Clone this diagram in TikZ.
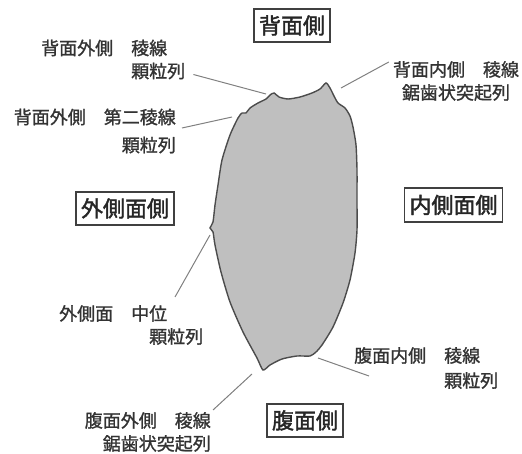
\documentclass[tikz,border=0pt]{standalone}
\usepackage{fontspec}
\newfontfamily\jpfont[FakeBold=1.2]{Noto Sans CJK JP}
\newfontfamily\jpboxfont[FakeBold=1.8]{Noto Sans CJK JP}
\usetikzlibrary{positioning}

\begin{document}
\begin{tikzpicture}[x=1pt, y=-1pt,
		side/.style={draw=black!75, line width=1.6pt, inner xsep=5pt, inner ysep=6pt,
			text height=19pt, text depth=2.5pt, text=black!85,
			font=\jpboxfont\fontsize{22}{26}\selectfont},
		note/.style={inner sep=0pt, text=black!80, font=\jpfont\fontsize{18}{23}\selectfont},
		leader/.style={draw=black!50, line width=1pt}]
	\useasboundingbox (0,0) rectangle (522,454);
	% Cross-section outline
	\filldraw[fill=black!25, draw=black!70, line width=1.4pt] plot[smooth cycle, tension=0.4] coordinates {
		(274,93) (279,97) (288,99) (300,97) (312,93) (320,89) (326,83)
		(330,88) (334,96) (338,103) (345,108) (350,116) (353,127) (356,145)
		(357,170) (357,200) (357,230) (355,253) (350,280) (343,303) (333,327)
		(322,345) (316,352) (310,356) (297,356) (282,359) (270,365) (263,370)
		(257,358) (243,332) (230,302) (221,272) (215,245) (213,232) (210,228)
		(213,222) (215,205) (218,185) (222,160) (230,135) (238,118) (242,113)
		(246,113) (250,108) (258,103) (266,99) (270,95)};
	% Points on the outline
	\coordinate (r1) at (266,94);
	\coordinate (r2) at (232,117);
	\coordinate (r3) at (341,88);
	\coordinate (r4) at (210,235);
	\coordinate (r5) at (252,374);
	\coordinate (r6) at (318,358);
	% Sides
	\node[side] (dorsal) at (292,25.5) {背面側};
	\node[side] (outer) at (125,208.5) {外側面側};
	\node[side] (inner) at (453.5,205) {内側面側};
	\node[side] (ventral) at (305,420.5) {腹面側};
	% Rows
	\node[note, align=left, anchor=west] (lab1) at (41,59.5) {背面外側　稜線\\\hspace{5em}顆粒列};
	\node[note, align=right, anchor=east] (lab2) at (176,131) {背面外側　第二稜線\\[5pt]顆粒列};
	\node[note, align=center] (lab3) at (456,81) {背面内側　稜線\\鋸歯状突起列};
	\node[note, align=left, anchor=west] (lab4) at (59,325) {外側面　中位\\\hspace{5em}顆粒列};
	\node[note, align=right, anchor=east] (lab5) at (211,432) {腹面外側　稜線\\鋸歯状突起列};
	\node[note, align=left, anchor=west] (lab6) at (354,368) {腹面内側　稜線\\[2pt]\hspace{5em}顆粒列};
	\draw[leader] ([shift={(8,15)}]lab1.east) -- (r1);
	\draw[leader] ([shift={(6,-3)}]lab2.east) -- (r2);
	\draw[leader] ([shift={(-4,-19)}]lab3.west) -- (r3);
	\draw[leader] ([shift={(116,-28)}]lab4.west) -- (r4);
	\draw[leader] ([shift={(2,-22)}]lab5.east) -- (r5);
	\draw[leader] ([shift={(15,8)}]lab6.west) -- (r6);
\end{tikzpicture}
\end{document}
